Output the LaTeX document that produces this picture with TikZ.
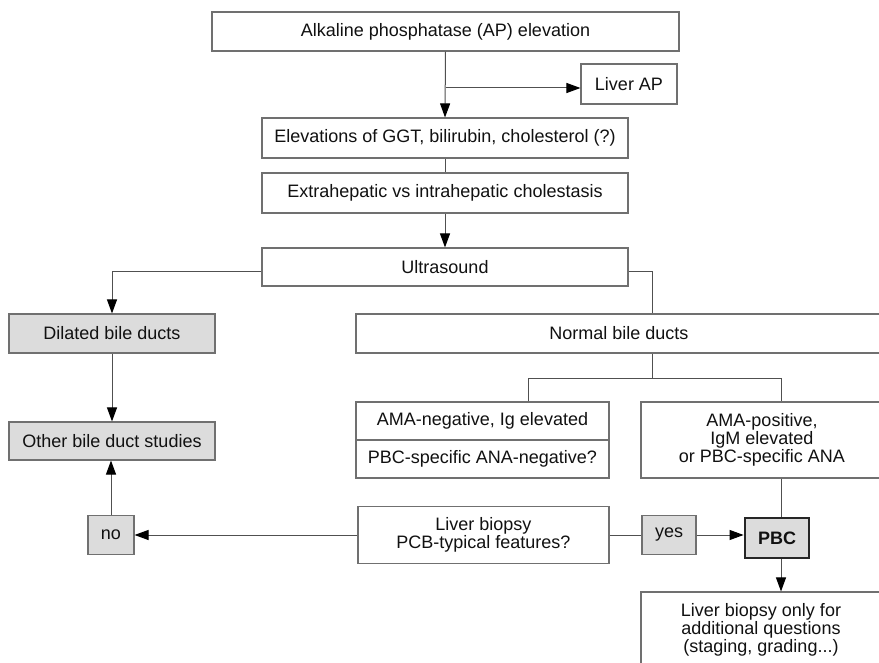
\documentclass[tikz,border=0pt]{standalone}
\usepackage{fontspec}
\setmainfont{Liberation Sans}
\usetikzlibrary{arrows.meta}
\definecolor{boxgray}{HTML}{707070}
\definecolor{linegray}{HTML}{505050}
\definecolor{fillgray}{HTML}{DCDCDC}
\definecolor{txt}{HTML}{111111}
\begin{document}
\begin{tikzpicture}[x=1pt,y=-1pt,
  box/.style={draw=boxgray, line width=1.1pt, fill=white, inner sep=0pt, font=\fontsize{18}{17.8}\selectfont, align=center, text=txt},
  gbox/.style={box, fill=fillgray},
  lbl/.style={inner sep=0pt, font=\fontsize{18}{17.8}\selectfont, align=center, text=txt},
  conn/.style={draw=linegray, line width=1pt},
  arr/.style={conn, -{Triangle[length=14pt,width=10pt,color=black,fill=black]}}]
\useasboundingbox (0,0) rectangle (879,663);
\clip (0,0) rectangle (879,663);

% nodes
\node[box, minimum width=467pt, minimum height=39pt] (top) at (445.5,31.5) {Alkaline phosphatase (AP) elevation};
\node[box, minimum width=96pt, minimum height=40pt] (liverap) at (629,84) {Liver AP};
\node[box, minimum width=366pt, minimum height=40pt] (ggt) at (445,138) {Elevations of GGT, bilirubin, cholesterol (?)};
\node[box, minimum width=366pt, minimum height=40pt] (extra) at (445,193) {Extrahepatic vs intrahepatic cholestasis};
\node[box, minimum width=366pt, minimum height=38pt] (us) at (445,267) {Ultrasound};
\node[gbox, minimum width=206pt, minimum height=39pt] (dilated) at (112,333.5) {Dilated bile ducts};
\node[gbox, minimum width=206pt, minimum height=38pt] (other) at (112,441) {Other bile duct studies};
\node[box, minimum width=526pt, minimum height=39pt] (normal) at (619,333.5) {Normal bile ducts};
\node[box, minimum width=253pt, minimum height=76pt] (amaneg) at (482.5,440) {};
\node[lbl] (amaneg1) at (482.5,421) {AMA-negative, Ig elevated};
\node[lbl] (amaneg2) at (482.5,459) {PBC-specific ANA-negative?};
\node[box, minimum width=242pt, minimum height=76pt] (amapos) at (762,440) {AMA-positive,\\IgM elevated\\or PBC-specific ANA};
\node[box, minimum width=251pt, minimum height=57pt] (biopsy) at (483.5,535) {Liver biopsy\\PCB-typical features?};
\node[gbox, minimum width=46pt, minimum height=39pt] (no) at (111,535) {no};
\node[gbox, minimum width=54pt, minimum height=39pt] (yes) at (669,535) {yes};
\node[gbox, draw=black!85, line width=2.8pt, minimum width=64pt, minimum height=40pt, font=\fontsize{18}{17.8}\selectfont\bfseries] (pbc) at (777,538) {PBC};
\node[box, minimum width=240pt, minimum height=76pt] (last) at (761,630) {Liver biopsy only for\\additional questions\\(staging, grading...)};

% helper coordinates
\coordinate (vr) at (781,0);
\coordinate (vn) at (652,0);
\coordinate (hb) at (0,378);
\coordinate (ha) at (0,88);
\coordinate (hu) at (0,272);
\coordinate (vl) at (528,0);
\coordinate (vd) at (112,0);

% connectors
\draw[arr] (top.south) -- (ggt.north);
\draw[arr] (ha -| top.south) -- (ha -| liverap.west);
\draw[conn] (ggt.south) -- (extra.north);
\draw[arr] (extra.south) -- (us.north);
\draw[arr] (hu -| us.west) -- (hu -| vd) -- (dilated.north);
\draw[conn] (hu -| us.east) -- (hu -| vn) -- (normal.north -| vn);
\draw[arr] (dilated.south) -- (other.north);
\draw[conn] (normal.south -| vn) -- (hb -| vn);
\draw[conn] (amaneg.north -| vl) -- (hb -| vl) -- (hb -| vr) -- (amapos.north -| vr);
\draw[conn, draw=boxgray, line width=1.1pt] (amaneg.west) -- (amaneg.east);
\draw[conn] (amapos.south -| vr) -- (pbc.north -| vr);
\draw[arr] (biopsy.west) -- (no.east);
\draw[arr] (no.north) -- (other.south -| no.north);
\draw[conn] (biopsy.east) -- (yes.west);
\draw[arr] (yes.east) -- (pbc.west |- yes.east);
\draw[arr] (pbc.south -| vr) -- (last.north -| vr);
\end{tikzpicture}
\end{document}
